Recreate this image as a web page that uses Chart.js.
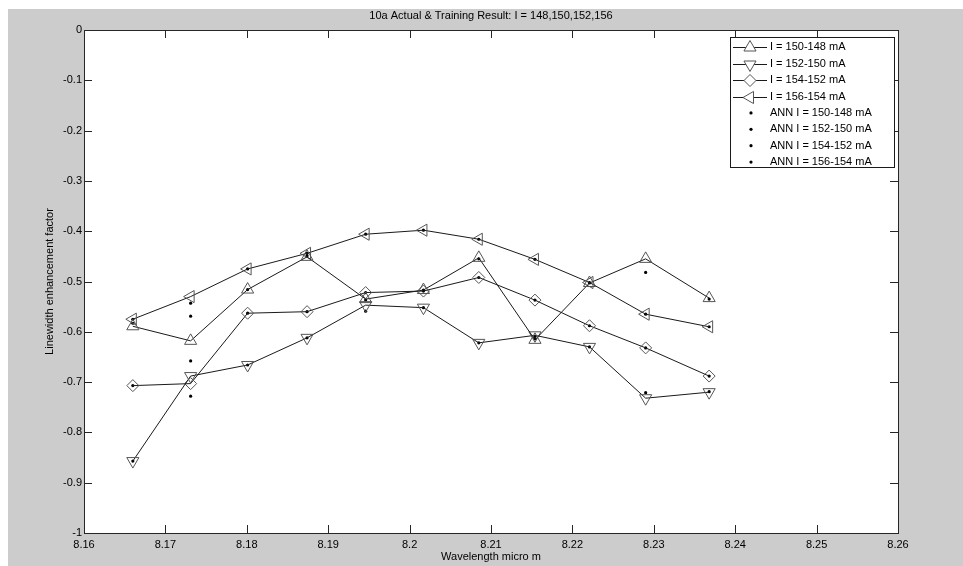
<!DOCTYPE html>
<html>
<head>
<meta charset="utf-8">
<script src="https://cdn.jsdelivr.net/npm/chart.js@4.4.1/dist/chart.umd.min.js"></script>
<style>
  html, body { margin: 0; padding: 0; background: #ffffff; }
  #wrap { width: 963px; height: 566px; }
</style>
</head>
<body>
<div id="wrap"><canvas id="c" width="963" height="566"></canvas></div>
<script>
// ---------- data ----------
const wavelengths = [8.1660, 8.1731, 8.1801, 8.1874, 8.1946, 8.2017, 8.2085, 8.2154, 8.2221, 8.2290, 8.2368];

const seriesLabels = ['I = 150-148 mA', 'I = 152-150 mA', 'I = 154-152 mA', 'I = 156-154 mA'];
const annLabels = ['ANN I = 150-148 mA', 'ANN I = 152-150 mA', 'ANN I = 154-152 mA', 'ANN I = 156-154 mA'];

const actual150_148 = [-0.589, -0.618, -0.516, -0.451, -0.535, -0.517, -0.453, -0.616, -0.503, -0.455, -0.533];
const actual152_150 = [-0.857, -0.688, -0.666, -0.612, -0.547, -0.552, -0.622, -0.607, -0.630, -0.732, -0.720];
const actual154_152 = [-0.707, -0.703, -0.563, -0.560, -0.522, -0.519, -0.492, -0.537, -0.588, -0.632, -0.688];
const actual156_154 = [-0.575, -0.530, -0.475, -0.444, -0.406, -0.398, -0.416, -0.456, -0.502, -0.565, -0.590];

const ann150_148 = [-0.583, -0.569, -0.516, -0.449, -0.537, -0.517, -0.455, -0.614, -0.503, -0.482, -0.535];
const ann152_150 = [-0.857, -0.658, -0.666, -0.612, -0.559, -0.552, -0.622, -0.609, -0.630, -0.721, -0.719];
const ann154_152 = [-0.707, -0.728, -0.563, -0.560, -0.522, -0.519, -0.492, -0.537, -0.588, -0.632, -0.688];
const ann156_154 = [-0.575, -0.543, -0.475, -0.444, -0.406, -0.398, -0.416, -0.456, -0.502, -0.565, -0.590];

const xTickValues = [8.16, 8.17, 8.18, 8.19, 8.20, 8.21, 8.22, 8.23, 8.24, 8.25, 8.26];
const xTickLabels = ['8.16', '8.17', '8.18', '8.19', '8.2', '8.21', '8.22', '8.23', '8.24', '8.25', '8.26'];
const yTickValues = [-1, -0.9, -0.8, -0.7, -0.6, -0.5, -0.4, -0.3, -0.2, -0.1, 0];
const yTickLabels = ['-1', '-0.9', '-0.8', '-0.7', '-0.6', '-0.5', '-0.4', '-0.3', '-0.2', '-0.1', '0'];

const chartTitle = '10a Actual & Training Result: I = 148,150,152,156';
const xTitle = 'Wavelength micro m';
const yTitle = 'Linewidth enhancement factor';

// ---------- build datasets ----------
const toPts = arr => arr.map((v, i) => ({ x: wavelengths[i], y: v }));
const actualSeries = [actual150_148, actual152_150, actual154_152, actual156_154];
const annSeries = [ann150_148, ann152_150, ann154_152, ann156_154];
const markerStyles = [
  { style: 'triangle', rot: 0, r: 7 },
  { style: 'triangle', rot: 180, r: 7 },
  { style: 'rectRot', rot: 0, r: 6 },
  { style: 'triangle', rot: -90, r: 7 }
];

const datasets = [];
actualSeries.forEach((arr, k) => {
  datasets.push({
    label: seriesLabels[k],
    data: toPts(arr),
    showLine: true,
    borderColor: '#1a1a1a',
    borderWidth: 1,
    pointStyle: markerStyles[k].style,
    pointRotation: markerStyles[k].rot,
    pointRadius: markerStyles[k].r,
    pointBorderColor: '#555555',
    pointBorderWidth: 1,
    pointBackgroundColor: 'rgba(0,0,0,0)',
    pointHoverRadius: markerStyles[k].r,
    tension: 0,
    isLegendLine: true
  });
});
annSeries.forEach((arr, k) => {
  datasets.push({
    label: annLabels[k],
    data: toPts(arr),
    showLine: false,
    borderColor: '#000000',
    pointStyle: 'circle',
    pointRadius: 1.6,
    pointBorderWidth: 0,
    pointBackgroundColor: '#000000',
    pointBorderColor: '#000000',
    pointHoverRadius: 1.6
  });
});

// ---------- plugins ----------
const bgPlugin = {
  id: 'bg',
  beforeDraw(chart) {
    const ctx = chart.ctx, a = chart.chartArea;
    ctx.save();
    ctx.fillStyle = '#ffffff';
    ctx.fillRect(0, 0, chart.width, chart.height);
    ctx.fillStyle = '#cccccc';
    ctx.fillRect(8, 9, chart.width - 8, chart.height - 9);
    ctx.fillStyle = '#ffffff';
    ctx.fillRect(a.left, a.top, a.right - a.left, a.bottom - a.top);
    // title centred over the axes
    ctx.fillStyle = '#000000';
    ctx.font = '11px "Liberation Sans", Arial, sans-serif';
    ctx.textAlign = 'center';
    ctx.textBaseline = 'middle';
    ctx.fillText(chartTitle, (a.left + a.right) / 2, 16);
    ctx.restore();
  }
};

const frameTicksPlugin = {
  id: 'frameTicks',
  afterDatasetsDraw(chart) {
    const ctx = chart.ctx, a = chart.chartArea;
    const xs = chart.scales.x, ys = chart.scales.y;
    const L = 8;
    ctx.save();
    ctx.strokeStyle = '#262626';
    ctx.lineWidth = 1;
    ctx.beginPath();
    xs.ticks.forEach(t => {
      const px = Math.round(xs.getPixelForValue(t.value)) + 0.5;
      ctx.moveTo(px, a.bottom); ctx.lineTo(px, a.bottom - L);
      ctx.moveTo(px, a.top); ctx.lineTo(px, a.top + L);
    });
    ys.ticks.forEach(t => {
      const py = Math.round(ys.getPixelForValue(t.value)) + 0.5;
      ctx.moveTo(a.left, py); ctx.lineTo(a.left + L, py);
      ctx.moveTo(a.right, py); ctx.lineTo(a.right - L, py);
    });
    ctx.stroke();
    ctx.strokeRect(Math.round(a.left) + 0.5, Math.round(a.top) + 0.5,
      Math.round(a.right - a.left), Math.round(a.bottom - a.top));
    ctx.restore();
  }
};

const legendPlugin = {
  id: 'boxLegend',
  afterDatasetsDraw(chart) {
    const ctx = chart.ctx;
    const bx = 730, by = 37, bw = 164, bh = 130;
    const rowTop = 47.3, rowStep = 16.4;
    ctx.save();
    ctx.fillStyle = '#ffffff';
    ctx.fillRect(bx, by, bw, bh);
    ctx.strokeStyle = '#1a1a1a';
    ctx.lineWidth = 1;
    ctx.strokeRect(bx + 0.5, by + 0.5, bw, bh);
    ctx.font = '11px "Liberation Sans", Arial, sans-serif';
    ctx.textBaseline = 'middle';
    ctx.textAlign = 'left';
    chart.data.datasets.forEach((ds, i) => {
      const y = rowTop + i * rowStep;
      if (ds.isLegendLine) {
        ctx.strokeStyle = '#1a1a1a';
        ctx.beginPath();
        ctx.moveTo(733, Math.round(y) + 0.5);
        ctx.lineTo(767, Math.round(y) + 0.5);
        ctx.stroke();
        ctx.strokeStyle = ds.pointBorderColor;
        ctx.fillStyle = '#ffffff';
        Chart.helpers.drawPoint(ctx, {
          pointStyle: ds.pointStyle, rotation: ds.pointRotation,
          radius: ds.pointRadius, borderWidth: 1
        }, 750, Math.round(y) + 0.5);
      } else {
        ctx.fillStyle = '#000000';
        ctx.beginPath();
        ctx.arc(751, y, 1.6, 0, Math.PI * 2);
        ctx.fill();
      }
      ctx.fillStyle = '#000000';
      ctx.fillText(ds.label, 770, y);
    });
    ctx.restore();
  }
};

Chart.defaults.font.family = '"Liberation Sans", Arial, sans-serif';
Chart.defaults.font.size = 11;
Chart.defaults.color = '#000000';

new Chart(document.getElementById('c'), {
  type: 'scatter',
  data: { datasets },
  options: {
    responsive: false,
    animation: false,
    devicePixelRatio: 1,
    events: [],
    layout: { padding: { left: 0, right: 65, top: 30, bottom: 0 } },
    plugins: {
      legend: { display: false },
      tooltip: { enabled: false },
      title: { display: false }
    },
    scales: {
      x: {
        type: 'linear',
        min: 8.16, max: 8.26,
        grid: { display: false, drawTicks: false, tickLength: 0 },
        border: { display: false },
        afterBuildTicks: s => { s.ticks = xTickValues.map(v => ({ value: v })); },
        afterFit: s => { s.height = 33; },
        ticks: {
          padding: 5,
          maxRotation: 0,
          autoSkip: false,
          color: '#000000',
          callback: (v, i) => xTickLabels[i]
        },
        title: {
          display: true, text: xTitle, color: '#000000',
          font: { size: 11 }, padding: { top: 0, bottom: 2 }
        }
      },
      y: {
        type: 'linear',
        min: -1, max: 0,
        grid: { display: false, drawTicks: false, tickLength: 0 },
        border: { display: false },
        afterBuildTicks: s => { s.ticks = yTickValues.map(v => ({ value: v })); },
        afterFit: s => { s.width = 84; },
        ticks: {
          padding: 2,
          autoSkip: false,
          color: '#000000',
          callback: (v, i) => yTickLabels[i]
        },
        title: {
          display: true, text: yTitle, color: '#000000',
          font: { size: 11 }, padding: { top: 43, bottom: 0 }
        }
      }
    }
  },
  plugins: [bgPlugin, frameTicksPlugin, legendPlugin]
});
</script>
</body>
</html>
